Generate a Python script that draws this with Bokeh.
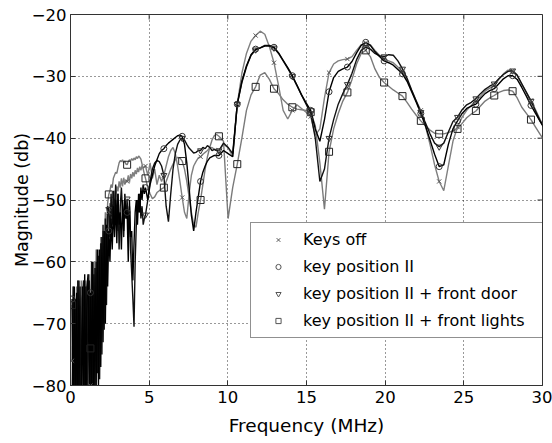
import numpy as np
from bokeh.plotting import figure
from bokeh.models import Range1d, Legend, LegendItem, FixedTicker
from bokeh.embed import file_html
from bokeh.resources import INLINE

# ---------------- data (MHz / dB) ----------------
# sampling grids of the traces (marker spacing 7/6 MHz)
freq_low = 0.1 + (7 / 96) * np.arange(64)
freq_mid = 4.7667 + (7 / 48) * np.arange(32)
freq_high = 9.4333 + (7 / 24) * np.arange(72)

x_ticks = [0, 5, 10, 15, 20, 25, 30]
y_ticks = [-80, -70, -60, -50, -40, -30, -20]
labels = ["Keys off", "key position II", "key position II + front door",
          "key position II + front lights"]

keys_off_low = [-76, -64, -84, -66, -83, -63, -85, -68, -64, -84, -65, -82, -63, -85, -66, -62,
                -80, -84, -62, -79, -60, -83, -61, -76, -59, -74, -57, -70, -55, -66, -53.5, -60,
                -52, -50.5, -52, -49.5, -50.5, -48.5, -49.5, -47.8, -48.6, -47, -48, -46.5, -47.8, -46.4,
                -47.5, -46.8, -47, -46, -47.2, -45.8, -46.5, -45.5, -46.2, -45.2, -45.8, -44.8, -45.5,
                -44.6, -45.2, -44.4, -44.9, -44.6]
keys_off_mid = [-44.5, -46, -44, -46.5, -45, -47.5, -46, -47, -46, -44.5, -43, -42, -41.5, -42.5,
                -44.5, -47, -49.6, -52, -53, -49, -46, -44.5, -43.8, -43.2, -43, -42.6, -42.3, -42,
                -41.6, -41.5, -41.8, -42]
keys_off_high = [-42, -41, -41.5, -43, -34.5, -29.5, -26.3, -24.3, -23.4, -22.7, -23.2, -25.2,
                 -27.8, -31.5, -35.5, -36.9, -35.5, -34.6, -35.2, -35.8, -36.5, -39.5, -38.5, -33.5,
                 -29.4, -28, -27.5, -27.3, -27.2, -26.8, -25.8, -24.9, -24.6, -24.9, -25.8, -26.6,
                 -27.2, -27.5, -27.8, -28.5, -29.3, -30.6, -32.3, -34, -35.5, -38, -41, -44.3, -47,
                 -48.5, -44.5, -40.5, -38.2, -36.6, -35.5, -34.7, -34.1, -33.2, -32.4, -31.9, -31.5,
                 -30.5, -29.6, -29, -29.1, -29.9, -31.3, -32.6, -33.9, -35.4, -37, -38.5]

pos2_low = [-66, -85, -64, -84, -65, -86, -63, -83, -85, -64, -84, -62, -86, -64, -62, -83,
            -65, -81, -60, -84, -61, -80, -58, -80, -58, -77, -56, -73, -55, -70, -54, -64,
            -55, -60, -53, -58, -51, -56, -50, -57, -49, -54, -52, -58, -50, -55,
            -49, -53, -52, -60, -50, -56, -55, -63, -57, -52, -50, -54, -49, -52, -48, -50, -47.5, -49]
pos2_mid = [-48, -50, -47.5, -46, -44.5, -43.5, -42.5, -42, -41.7, -41.2, -40.8, -40.5, -40.2,
            -39.9, -39.6, -39.5, -39.7, -41, -44, -48, -52.5, -55, -52, -49.5, -47, -45.5, -44.5,
            -43.7, -43.2, -43, -42.8, -42.8]
pos2_high = [-42.8, -42, -42.5, -43, -34.5, -30.8, -28.3, -26.5, -25.6, -25.4, -25.1, -25.1,
             -25.3, -26.2, -27.4, -28.6, -29.9, -31.4, -33, -34.3, -35.5, -38.5, -40.5, -37,
             -32.5, -30.2, -29.2, -28.8, -28.5, -27.6, -26.2, -25, -24.5, -25, -26, -26.8,
             -27.5, -27.8, -28.2, -28.9, -29.6, -30.8, -32.5, -34.2, -36, -38, -40.3, -42.6, -44.6,
             -44.3, -41, -38.5, -37.2, -36, -35.2, -34.8, -34.5, -33.6, -32.8, -32.3, -32,
             -31.2, -30.4, -29.9, -29.9, -30.5, -31.8, -33.2, -34.7, -36, -37.3, -38.5]

door_low = [-84, -64, -83, -66, -85, -63, -84, -64, -85, -66, -63, -86, -64, -84, -65, -63,
            -82, -60, -84, -62, -81, -60, -78, -59, -79, -57, -75, -54, -71, -53, -67, -51,
            -51.5, -56, -49, -54, -48.5, -53, -47.5, -55, -49, -58, -51, -48, -52, -56,
            -50, -53, -49.8, -55, -51, -58, -62, -66, -70.5, -60, -54, -50, -52, -49, -53, -51, -54, -53]
door_mid = [-52.4, -50, -47, -45, -44, -43.6, -43.8, -44.5, -46, -51, -53.5, -49, -45, -42.5,
            -41, -40.3, -40, -40.3, -41, -41.6, -42, -42.4, -42.3, -42, -42, -41.5, -41.7, -41.2,
            -41.5, -42, -41.8, -42]
door_high = [-42, -40.8, -41.5, -42.5, -34.5, -31, -28.5, -26.6, -25.7, -25.4, -25, -25,
             -25.4, -26.3, -27.5, -28.7, -30, -31.5, -33, -34.5, -36, -40, -47, -45,
             -40, -37, -34.5, -32.8, -31.3, -29.5, -27.3, -25.8, -25.3, -25.6, -26.3, -26.7,
             -26.8, -26.5, -26.6, -27.5, -28.8, -30.3, -32.2, -34, -35.8, -37.5, -39.3, -40.8, -41.4,
             -40.8, -39, -37.3, -36.6, -35.4, -34.6, -34.2, -33.6, -32.8, -32.1, -31.6, -31.2,
             -30.4, -29.7, -29.2, -29.1, -29.8, -31.2, -32.6, -34, -35.6, -37.2, -38.5]

lights_low = [-67, -84, -65, -86, -64, -83, -66, -85, -63, -84, -65, -86, -64, -84, -62, -85,
              -74, -62, -83, -60, -80, -58, -76, -58, -70, -56, -66, -55, -62, -52, -56, -50.5,
              -49.1, -48.5, -47.5, -48, -46.5, -46, -45.5, -45.7, -44.8, -44, -43.6, -43.8, -43.5, -44,
              -43.7, -44.2, -44.3, -43.8, -43.5, -43.7, -43.3, -43.6, -43.2, -43.5, -43, -43.3, -42.9,
              -43.1, -43.4, -44.2, -45, -45.8]
lights_mid = [-46.5, -48, -49, -49.8, -49.5, -48.8, -48.5, -48.2, -48, -47, -46, -45, -44.2,
              -43.5, -43.1, -43.2, -43.7, -45, -47, -49.5, -52, -54, -54.4, -52, -50, -47.5, -45,
              -43, -41.5, -40.3, -39.6, -39.4]
lights_high = [-39.7, -40.5, -53, -48, -44.2, -40, -35.5, -33, -31.7, -29.8, -29.4, -30.5,
               -32, -32.8, -33.8, -34.5, -35, -35.3, -35.4, -35.5, -35.8, -38, -44, -51.5,
               -42.2, -38.5, -36, -34, -32.6, -30.5, -28, -26.3, -25.8, -26.8, -28.8, -30.2,
               -31, -31.6, -32.2, -32.7, -33.2, -34.2, -35.3, -36.3, -37.2, -38, -38.7, -39.2, -39.3,
               -39.3, -39.1, -38.8, -38.5, -37.6, -36.7, -36.1, -35.6, -34.8, -34, -33.5, -33.1,
               -32.6, -32.3, -32.2, -32.4, -33.5, -35, -36, -37, -38.2, -39.4, -40.5]

# ---------------- assembly ----------------
freq = np.concatenate([freq_low, freq_mid, freq_high])
marker_idx = np.concatenate([np.arange(0, 64, 16), 64 + np.arange(0, 32, 8), 96 + np.arange(0, 72, 4)])

# (values, line colour, marker, marker size, marker colour)
series = [
    (np.array(keys_off_low + keys_off_mid + keys_off_high), "#808080", "x", 6, "#555555"),
    (np.array(pos2_low + pos2_mid + pos2_high), "#000000", "circle", 6, "#333333"),
    (np.array(door_low + door_mid + door_high), "#111111", "inverted_triangle", 6, "#333333"),
    (np.array(lights_low + lights_mid + lights_high), "#7a7a7a", "square", 7, "#222222"),
]

FONT = "DejaVu Sans"
W, H = 552, 443
BL, BR, BT, BB = 70, 10, 14, 58
x0, x1, y0, y1 = 0, 30, -80, -20
p = figure(width=W, height=H, x_range=Range1d(x0, x1), y_range=Range1d(y0, y1),
           output_backend="svg", toolbar_location=None,
           min_border_left=BL, min_border_right=BR, min_border_top=BT, min_border_bottom=BB)
p.background_fill_color = "white"
p.border_fill_color = "white"
p.outline_line_color = "#333333"
p.outline_line_width = 1

# lines: grey ones underneath, black on top
for k in [3, 0, 2, 1]:
    vals, col, mk, sz, mcol = series[k]
    p.line(freq, vals, line_color=col, line_width=1.4)
for k in [3, 0, 2, 1]:
    vals, col, mk, sz, mcol = series[k]
    p.scatter(freq[marker_idx], vals[marker_idx], marker=mk, size=sz,
              line_color=mcol, fill_color=None, line_width=1)

# legend-only renderers (small markers)
items = []
for (vals, col, mk, sz, mcol), lab in zip(series, labels):
    r = p.scatter(x=[np.nan], y=[np.nan], marker=mk, size=5, line_color="#555555",
                  fill_color=None, line_width=1)
    items.append(LegendItem(label=lab, renderers=[r]))

legend = Legend(items=items, location=(180, 47), padding=3, spacing=0,
                glyph_width=48, glyph_height=13, label_height=27, label_width=240,
                label_standoff=1, label_text_font=FONT, label_text_font_size="16px",
                label_text_color="black", border_line_color="#222222", border_line_width=1,
                background_fill_color="white", background_fill_alpha=1.0)
p.add_layout(legend, "center")

# axes
for ax in (p.xaxis[0], p.yaxis[0]):
    ax.major_tick_in = 5
    ax.major_tick_out = 0
    ax.minor_tick_line_color = None
    ax.axis_line_color = "#333333"
    ax.major_tick_line_color = "#333333"
    ax.major_label_text_font = FONT
    ax.major_label_text_font_size = "16.5px"
    ax.major_label_text_color = "black"
    ax.axis_label_text_font = FONT
    ax.axis_label_text_font_style = "normal"
    ax.axis_label_text_color = "black"

p.xaxis.ticker = FixedTicker(ticks=x_ticks)
p.yaxis.ticker = FixedTicker(ticks=y_ticks)
p.xaxis.axis_label = "Frequency (MHz)"
p.yaxis.axis_label = "Magnitude (db)"
p.xaxis.axis_label_text_font_size = "18.5px"
p.yaxis.axis_label_text_font_size = "17.5px"
p.xaxis.major_label_standoff = 5
p.yaxis.major_label_standoff = 4
p.xaxis.axis_label_standoff = 9
p.yaxis.axis_label_standoff = -3

# inside ticks on the top and right edges (box on), 5 px long
tx = 5 * (x1 - x0) / (W - BL - BR)
ty = 5 * (y1 - y0) / (H - BT - BB)
p.segment(x0=x_ticks, x1=x_ticks, y0=[y1] * len(x_ticks), y1=[y1 - ty] * len(x_ticks),
          line_color="#333333", line_width=1)
p.segment(x0=[x1] * len(y_ticks), x1=[x1 - tx] * len(y_ticks), y0=y_ticks, y1=y_ticks,
          line_color="#333333", line_width=1)

for g in (p.xgrid[0], p.ygrid[0]):
    g.grid_line_color = "#000000"
    g.grid_line_dash = "1 3"
    g.grid_line_width = 1
    g.grid_line_alpha = 0.8
p.xgrid.ticker = FixedTicker(ticks=x_ticks)
p.ygrid.ticker = FixedTicker(ticks=y_ticks)

open("out.html", "w").write(file_html(p, INLINE))
